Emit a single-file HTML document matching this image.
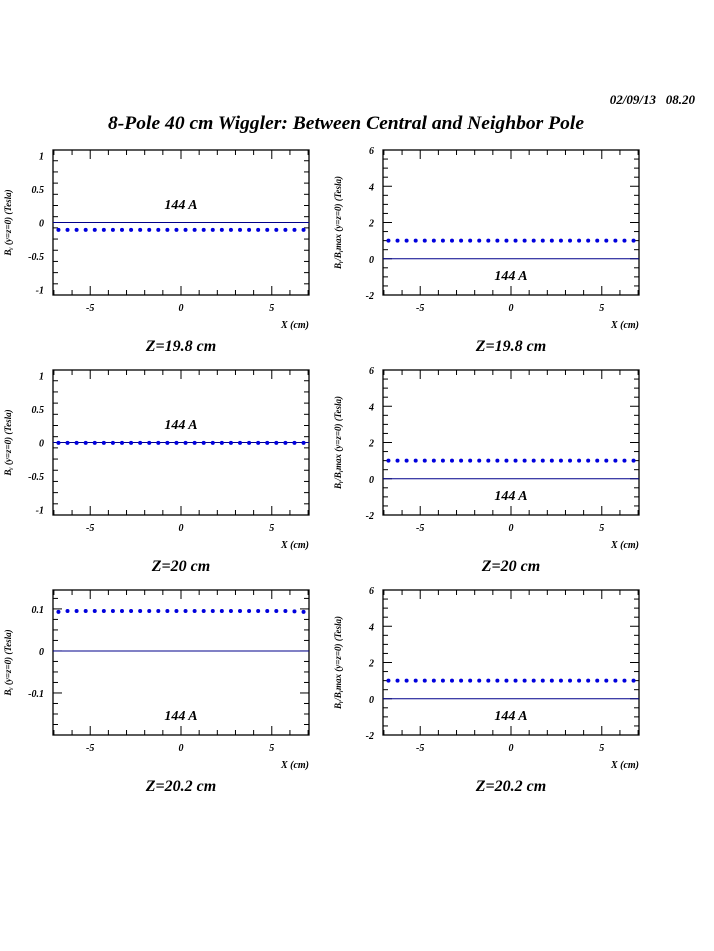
<!DOCTYPE html>
<html><head><meta charset="utf-8"><style>
html,body{margin:0;padding:0;background:#fff;}
svg{display:block;font-family:"Liberation Serif",serif;font-weight:bold;font-style:italic;}
</style></head><body>
<svg id="chart" width="714" height="951" viewBox="0 0 714 951" xmlns="http://www.w3.org/2000/svg">
<rect width="714" height="951" fill="#fff"/>
<text x="695" y="104" text-anchor="end" font-size="13">02/09/13&#160;&#160;&#160;08.20</text>
<text x="346" y="129" text-anchor="middle" font-size="19" textLength="476" lengthAdjust="spacingAndGlyphs">8-Pole 40 cm Wiggler: Between Central and Neighbor Pole</text>
</svg>
<script>
const xValues = [-6.75,-6.25,-5.75,-5.25,-4.75,-4.25,-3.75,-3.25,-2.75,-2.25,-1.75,-1.25,-0.75,-0.25,0.25,0.75,1.25,1.75,2.25,2.75,3.25,3.75,4.25,4.75,5.25,5.75,6.25,6.75];
const by198 = [-0.11,-0.11,-0.11,-0.11,-0.11,-0.11,-0.11,-0.11,-0.11,-0.11,-0.11,-0.11,-0.11,-0.11,-0.11,-0.11,-0.11,-0.11,-0.11,-0.11,-0.11,-0.11,-0.11,-0.11,-0.11,-0.11,-0.11,-0.11];
const ratio198 = [1,1,1,1,1,1,1,1,1,1,1,1,1,1,1,1,1,1,1,1,1,1,1,1,1,1,1,1];
const by20 = [-0.005,-0.005,-0.005,-0.005,-0.005,-0.005,-0.005,-0.005,-0.005,-0.005,-0.005,-0.005,-0.005,-0.005,-0.005,-0.005,-0.005,-0.005,-0.005,-0.005,-0.005,-0.005,-0.005,-0.005,-0.005,-0.005,-0.005,-0.005];
const ratio20 = [1,1,1,1,1,1,1,1,1,1,1,1,1,1,1,1,1,1,1,1,1,1,1,1,1,1,1,1];
const by202 = [0.093,0.095,0.095,0.095,0.095,0.095,0.095,0.095,0.095,0.095,0.095,0.095,0.095,0.095,0.095,0.095,0.095,0.095,0.095,0.095,0.095,0.095,0.095,0.095,0.095,0.095,0.094,0.093];
const ratio202 = [1,1,1,1,1,1,1,1,1,1,1,1,1,1,1,1,1,1,1,1,1,1,1,1,1,1,1,1];
const xTicks = [-5,0,5];
const byTicksFull = [-1,-0.5,0,0.5,1];
const byTicksSmall = [-0.1,0,0.1];
const ratioTicks = [-2,0,2,4,6];
const captions = ["Z=19.8 cm","Z=20 cm","Z=20.2 cm"];

const svg = document.getElementById('chart');
const NS = 'http://www.w3.org/2000/svg';
function mk(tag, attrs, parent){const e=document.createElementNS(NS,tag);for(const k in attrs)e.setAttribute(k,attrs[k]);(parent||svg).appendChild(e);return e;}

function panel(cfg){
  const L=cfg.x0, R=cfg.x0+256, T=cfg.y0, B=cfg.y0+145;
  const xmin=-7.05, xmax=7.05;
  const sx=v=>L+(v-xmin)/(xmax-xmin)*(R-L);
  const sy=v=>B-(v-cfg.ymin)/(cfg.ymax-cfg.ymin)*(B-T);
  const g=mk('g',{});
  
  
  const fr=mk('rect',{x:L,y:T,width:R-L,height:B-T,fill:'none',stroke:'#000','stroke-width':1.3},g);
  
  
  // x ticks
  for(let v=-7;v<=7;v++){
    const len=(v%5===0)?9:5;
    const x=sx(v);
    mk('line',{x1:x,x2:x,y1:B,y2:B-len,stroke:'#000'},g);
    mk('line',{x1:x,x2:x,y1:T,y2:T+len,stroke:'#000'},g);
  }
  xTicks.forEach(v=>{
    const t=mk('text',{x:sx(v),y:B+16,'text-anchor':'middle','font-size':10},g);
    t.textContent=v;
    
    
  });
  // y ticks
  const step=cfg.minor;
  for(let v=cfg.ymin;v<=cfg.ymax+1e-9;v+=step){
    const y=sy(v);
    const major=cfg.ticks.some(t=>Math.abs(t-v)<1e-6);
    const len=major?9:5;
    mk('line',{x1:L,x2:L+len,y1:y,y2:y,stroke:'#000'},g);
    mk('line',{x1:R,x2:R-len,y1:y,y2:y,stroke:'#000'},g);
  }
  cfg.ticks.forEach(v=>{
    const t=mk('text',{x:L-9,y:sy(v)+4,'text-anchor':'end','font-size':10},g);
    t.textContent=v;
    
    
  });
  // zero line
  const zl=mk('line',{x1:L,x2:R,y1:sy(0),y2:sy(0),stroke:'#00008b','stroke-width':1},g);
  
  
  // points
  cfg.data.forEach((v,i)=>{
    const c=mk('circle',{cx:sx(xValues[i]),cy:sy(v),r:2,fill:'#0000dd'},g);
    
    
  });
  // labels
  const lab=mk('text',{x:sx(0),y:cfg.labelY,'text-anchor':'middle','font-size':14},g);
  lab.textContent='144 A';
  
  
  const xt=mk('text',{x:R,y:B+33,'text-anchor':'end','font-size':10},g);
  xt.textContent='X (cm)';
  
  
  const cap=mk('text',{x:(L+R)/2,y:B+56,'text-anchor':'middle','font-size':16},g);
  cap.textContent=cfg.caption;
  
  
  const yt=mk('text',{x:0,y:0,'text-anchor':'middle','font-size':9,transform:'translate('+(L-42)+','+((T+B)/2)+') rotate(-90)'},g);
  yt.textContent=cfg.ytitle;
  
  
}

const rows=[150,370,590];
const leftData=[by198,by20,by202];
const rightData=[ratio198,ratio20,ratio202];
rows.forEach((y0,r)=>{
  const small=(r===2);
  panel({name:'by-panel-'+(r+1),x0:53,y0:y0,ymin:small?-0.2:-1.08,ymax:small?0.145:1.08,
    ticks:small?byTicksSmall:byTicksFull,minor:small?0.025:1/6,data:leftData[r],
    labelY:small?y0+130:y0+59,caption:captions[r],ytitle:'B\u1D67 (y=z=0) (Tesla)'});
  panel({name:'ratio-panel-'+(r+1),x0:383,y0:y0,ymin:-2,ymax:6,ticks:ratioTicks,minor:0.5,
    data:rightData[r],labelY:y0+130,caption:captions[r],ytitle:'B\u1D67/B\u1D67max (y=z=0) (Tesla)'});
});
</script>
</body></html>
